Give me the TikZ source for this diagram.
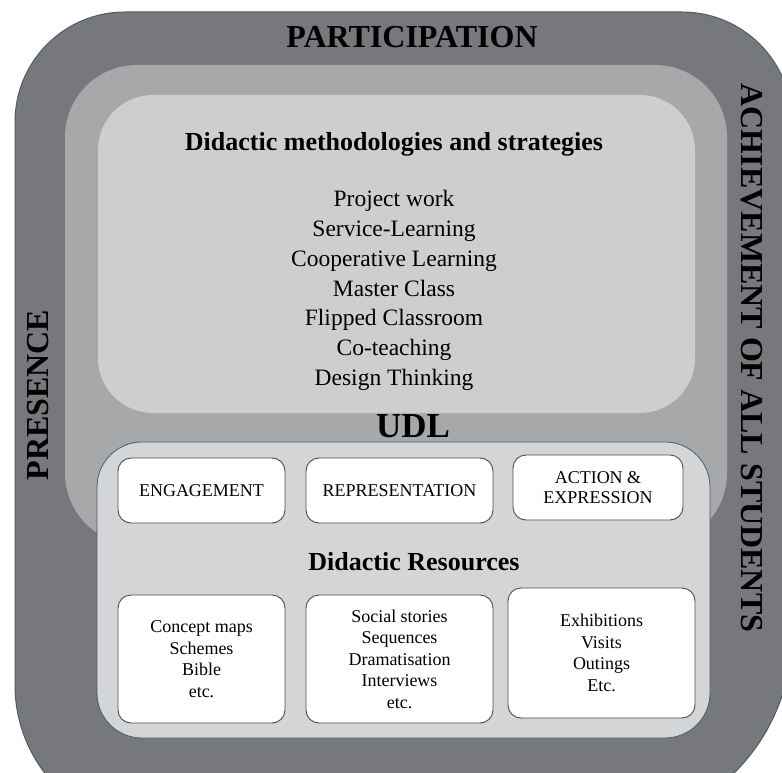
\documentclass[tikz,border=0pt]{standalone}
\usepackage{fontspec}
\setmainfont{Liberation Serif}
\usetikzlibrary{positioning}
\definecolor{ringdark}{HTML}{76787B}
\definecolor{ringmid}{HTML}{A6A8AA}
\definecolor{panelgray}{HTML}{CDCECF}
\definecolor{udlgray}{HTML}{D4D5D6}
\definecolor{edgeblue}{HTML}{4F5B68}
\tikzset{
  ringlabel/.style={font=\fontsize{32}{32}\selectfont\bfseries},
  headlabel/.style={font=\fontsize{26}{26}\selectfont\bfseries, anchor=base},
  methodlabel/.style={font=\fontsize{23.5}{24}\selectfont, anchor=base},
  principle/.style={draw=black!70, fill=white, line width=0.9pt, rounded corners=13pt,
    minimum height=65pt, inner sep=0pt, align=center, font=\fontsize{18}{20}\selectfont},
  resource/.style={principle, minimum height=128pt, font=\fontsize{18}{21.5}\selectfont},
}
\begin{document}
\begin{tikzpicture}[x=1pt,y=-1pt]
  \useasboundingbox (0,0) rectangle (782,773);
  \clip (0,0) rectangle (782,773);
  % rings
  \filldraw[fill=ringdark, draw=edgeblue, line width=1pt]
    (15,122) arc (180:270:110) -- (682,12) arc (270:360:110)
    -- (792,634) arc (0:90:196) -- (160,830) arc (90:180:145) -- cycle;
  \fill[ringmid, rounded corners=72pt] (65,65) rectangle (727,545);
  \fill[panelgray, rounded corners=55pt] (98,95) rectangle (695,413);
  \filldraw[fill=udlgray, draw=edgeblue, line width=0.8pt, rounded corners=45pt] (97,442) rectangle (710,738);
  % ring labels
  \node[ringlabel, anchor=base] (participation) at (412,48) {PARTICIPATION};
  \node[ringlabel, rotate=90] (presence) at (38,395) {PRESENCE};
  \node[ringlabel, rotate=-90] (achievement) at (752,358) {ACHIEVEMENT OF ALL STUDENTS};
  % methodologies
  \node[headlabel] (methods) at (394,150) {Didactic methodologies and strategies};
  \foreach \method [count=\i] in {Project work, Service-Learning, Cooperative Learning,
      Master Class, Flipped Classroom, Co-teaching, Design Thinking}
    \node[methodlabel] (method\i) at (394,{207+29.7*(\i-1)}) {\method};
  % UDL
  \node[font=\fontsize{35}{35}\selectfont\bfseries, anchor=base] (udl) at (413,437) {UDL};
  \node[principle, minimum width=167pt] (engagement) at (201.5,490.5) {ENGAGEMENT};
  \node[principle, minimum width=187pt] (representation) at (399.5,490.5) {REPRESENTATION};
  \node[principle, minimum width=170pt] (action) at (598,487.5) {ACTION \&\\EXPRESSION};
  \node[headlabel] (resources) at (414,570) {Didactic Resources};
  \node[resource, minimum width=167pt] (concept) at (201.5,659) {Concept maps\\Schemes\\Bible\\etc.};
  \node[resource, minimum width=187pt] (social) at (399.5,659) {Social stories\\Sequences\\Dramatisation\\Interviews\\etc.};
  \node[resource, minimum width=187pt, minimum height=130pt] (visits) at (601.5,653) {Exhibitions\\Visits\\Outings\\Etc.};
\end{tikzpicture}
\end{document}
